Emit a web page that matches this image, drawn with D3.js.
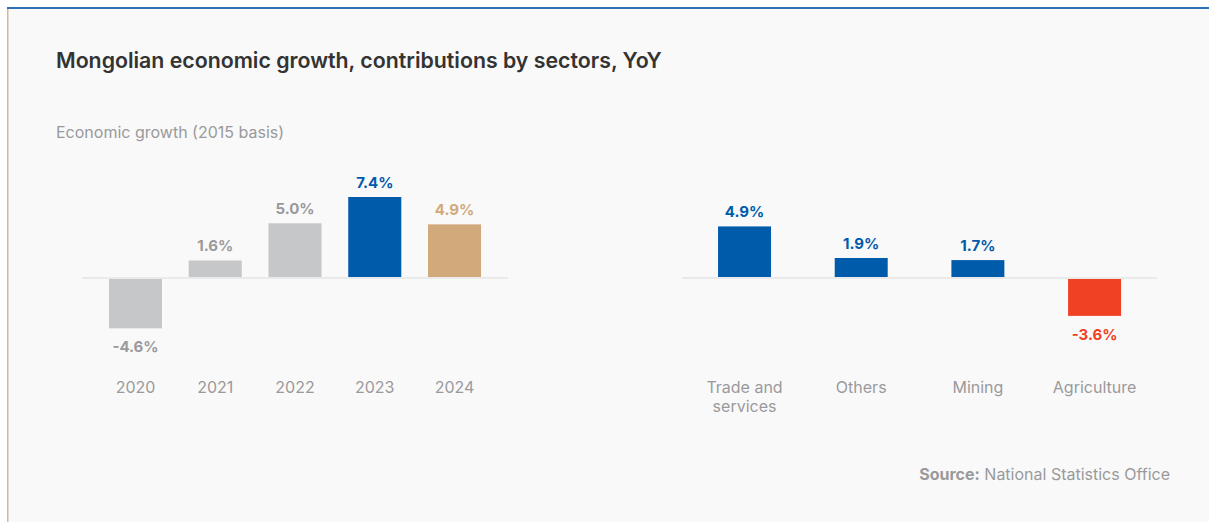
<!DOCTYPE html>
<html>
<head>
<meta charset="utf-8">
<script src="https://cdn.jsdelivr.net/npm/d3@7"></script>
<style>
  html, body { margin: 0; padding: 0; background: #ffffff; }
  svg { display: block; font-family: Inter, "Noto Sans", sans-serif; }
</style>
</head>
<body>
<svg id="chart" width="1209" height="522"></svg>
<script>
// Annual real GDP growth (2015 basis)
const years = ["2020", "2021", "2022", "2023", "2024"];
const growth = [-4.6, 1.6, 5.0, 7.4, 4.9];
const yearColors = ["#c6c7c9", "#c6c7c9", "#c6c7c9", "#005baa", "#d1a97a"];
const yearLabelColors = ["#9a9a9c", "#9a9a9c", "#9a9a9c", "#005baa", "#d1a97a"];

// Contributions to growth by sector, percentage points
const sectors = [["Trade and", "services"], ["Others"], ["Mining"], ["Agriculture"]];
const contributions = [4.9, 1.9, 1.7, -3.6];
const sectorColors = ["#005baa", "#005baa", "#005baa", "#f04124"];

const svg = d3.select("#chart");
const W = 1209, H = 522;
const pct = v => d3.format(".1f")(v).replace("\u2212", "-") + "%";

// card background and accent borders
svg.append("rect").attr("x", 8).attr("y", 9).attr("width", W - 8).attr("height", H - 9).attr("fill", "#f9f9f9");
svg.append("rect").attr("x", 7).attr("y", 7).attr("width", W - 7).attr("height", 2).attr("fill", "#2f6fba");
svg.append("rect").attr("x", 7).attr("y", 9).attr("width", 1.5).attr("height", H - 9).attr("fill", "#d9b88f");

svg.append("text").attr("x", 56).attr("y", 67.5)
  .attr("font-size", 21.3).attr("font-weight", 600).attr("fill", "#333333")
  .text("Mongolian economic growth, contributions by sectors, YoY");

svg.append("text").attr("x", 56).attr("y", 138)
  .attr("font-size", 16).attr("fill", "#9a9a9c")
  .text("Economic growth (2015 basis)");

const src = svg.append("text").attr("x", 1170).attr("y", 480).attr("text-anchor", "end")
  .attr("font-size", 16).attr("fill", "#9a9a9c");
src.append("tspan").attr("font-weight", 700).text("Source:");
src.append("tspan").text(" National Statistics Office");

function panel(cfg) {
  const g = svg.append("g");
  const x = d3.scaleBand().domain(cfg.cats.map((d, i) => i))
    .range(cfg.band).paddingInner(cfg.padIn).paddingOuter(cfg.padIn / 2);
  const y = d3.scaleLinear().domain(cfg.domain).range(cfg.range);

  // zero baseline
  g.append("line").attr("x1", cfg.x0).attr("x2", cfg.x1)
    .attr("y1", y(0)).attr("y2", y(0))
    .attr("stroke", "#dcdcdc").attr("stroke-width", 1.2);

  cfg.vals.forEach((v, i) => {
    const top = v >= 0 ? y(v) : y(0) + 1;
    const bottom = v >= 0 ? y(0) - 1 : y(v);
    g.append("rect")
      .attr("x", x(i)).attr("width", x.bandwidth())
      .attr("y", top).attr("height", Math.max(0, bottom - top))
      .attr("fill", cfg.colors[i]);

    g.append("text")
      .attr("x", x(i) + x.bandwidth() / 2)
      .attr("y", v >= 0 ? y(v) - 9 : y(v) + 24)
      .attr("text-anchor", "middle")
      .attr("font-size", 15).attr("font-weight", 700)
      .attr("fill", cfg.labelColors[i])
      .text(pct(v));

    const lines = Array.isArray(cfg.cats[i]) ? cfg.cats[i] : [cfg.cats[i]];
    const t = g.append("text")
      .attr("x", x(i) + x.bandwidth() / 2).attr("y", 392.5)
      .attr("text-anchor", "middle").attr("font-size", 16).attr("fill", "#9a9a9c");
    lines.forEach((l, k) => {
      t.append("tspan").attr("x", x(i) + x.bandwidth() / 2).attr("dy", k === 0 ? 0 : 19).text(l);
    });
  });
}

panel({
  cats: years, vals: growth, colors: yearColors, labelColors: yearLabelColors,
  x0: 82, x1: 508, band: [95.6, 494.4], padIn: 0.335,
  domain: [0, 7.4], range: [278, 197]
});

panel({
  cats: sectors, vals: contributions, colors: sectorColors,
  labelColors: sectorColors,
  x0: 682, x1: 1157, band: [686.2, 1152.9], padIn: 0.546,
  domain: [0, 1.9], range: [278, 258]
});
</script>
</body>
</html>
